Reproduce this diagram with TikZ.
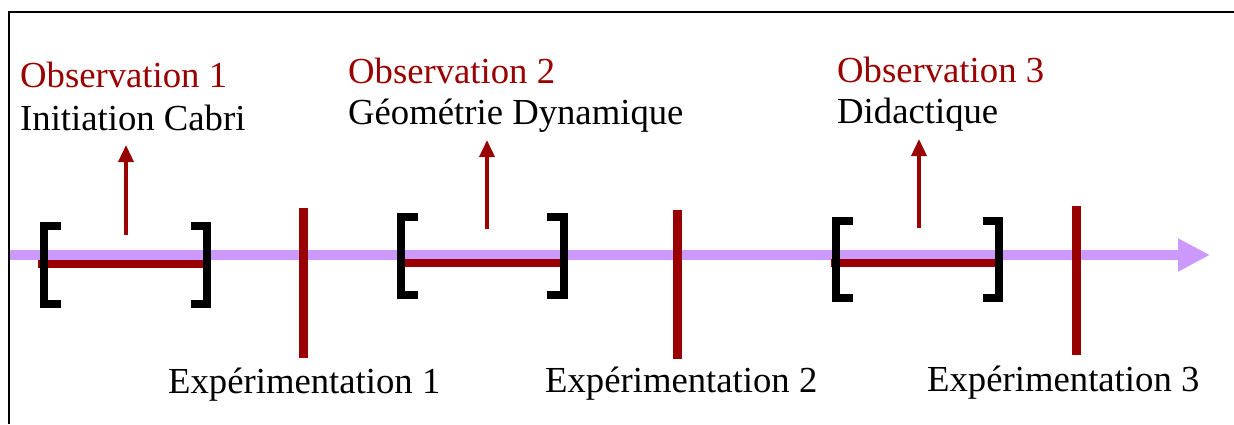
\documentclass[tikz,border=0pt]{standalone}
\usepackage{fontspec}
\setmainfont{Liberation Serif}
\usetikzlibrary{arrows.meta}
\definecolor{darkred}{HTML}{990000}
\definecolor{lilac}{HTML}{CC99FF}

\begin{document}
\begin{tikzpicture}[
        x=1pt, y=-1pt,
        every node/.style={
          inner sep=0pt,
          anchor=base west,
          font=\fontsize{36.7}{44}\selectfont
        },
        obs/.style={text=darkred},
        axis/.style={line width=10pt, lilac, -{Triangle[length=32pt,width=31pt]}},
        span/.style={line width=8pt, darkred},
        bracket/.style={line width=8pt, black, line join=miter},
        cut/.style={line width=9pt, darkred},
        pointer/.style={line width=3.5pt, darkred, -{Triangle[length=17pt,width=15pt]}}
      ]
      \useasboundingbox (0,0) rectangle (1234,424);
      \draw[line width=1.5pt] (9,424) -- (9,12) -- (1234,12);

      \node[obs] (obs1) at (20,87)  {Observation 1};
      \node      (lab1) at (20,130) {Initiation Cabri};
      \node[obs] (obs2) at (348,83)  {Observation 2};
      \node      (lab2) at (348,124) {Géométrie Dynamique};
      \node[obs] (obs3) at (837,82)  {Observation 3};
      \node      (lab3) at (837,123) {Didactique};

      \node (exp1) at (168,393) {Expérimentation 1};
      \node (exp2) at (545,392) {Expérimentation 2};
      \node (exp3) at (927,391) {Expérimentation 3};

      \coordinate (axL) at (10,255);
      \coordinate (axR) at (1210,255);
      \draw[axis] (axL) -- (axR);

      % observation periods
      \draw[span] (38,264) -- (203,264);
      \draw[span] (402,263) -- (567,263);
      \draw[span] (831,263) -- (996,263);

      \draw[bracket] (61,226) -- (44,226) -- (44,304) -- (61,304);
      \draw[bracket] (191,226) -- (207,226) -- (207,304) -- (191,304);
      \draw[bracket] (418,217) -- (401,217) -- (401,295) -- (418,295);
      \draw[bracket] (547,217) -- (564,217) -- (564,295) -- (547,295);
      \draw[bracket] (853,221) -- (836,221) -- (836,298) -- (853,298);
      \draw[bracket] (983,221) -- (999,221) -- (999,298) -- (983,298);

      % experiments
      \coordinate (c1a) at (303,208);
      \coordinate (c1b) at (303,358);
      \coordinate (c2a) at (677,210);
      \coordinate (c2b) at (677,359);
      \coordinate (c3a) at (1076,206);
      \coordinate (c3b) at (1076,355);
      \draw[cut] (c1a) -- (c1b);
      \draw[cut] (c2a) -- (c2b);
      \draw[cut] (c3a) -- (c3b);

      \coordinate (b1) at (126,235);
      \coordinate (t1) at (126,145);
      \coordinate (b2) at (487,229);
      \coordinate (t2) at (487,140);
      \coordinate (b3) at (919,228);
      \coordinate (t3) at (919,139);
      \draw[pointer] (b1) -- (t1);
      \draw[pointer] (b2) -- (t2);
      \draw[pointer] (b3) -- (t3);
    \end{tikzpicture}
\end{document}
